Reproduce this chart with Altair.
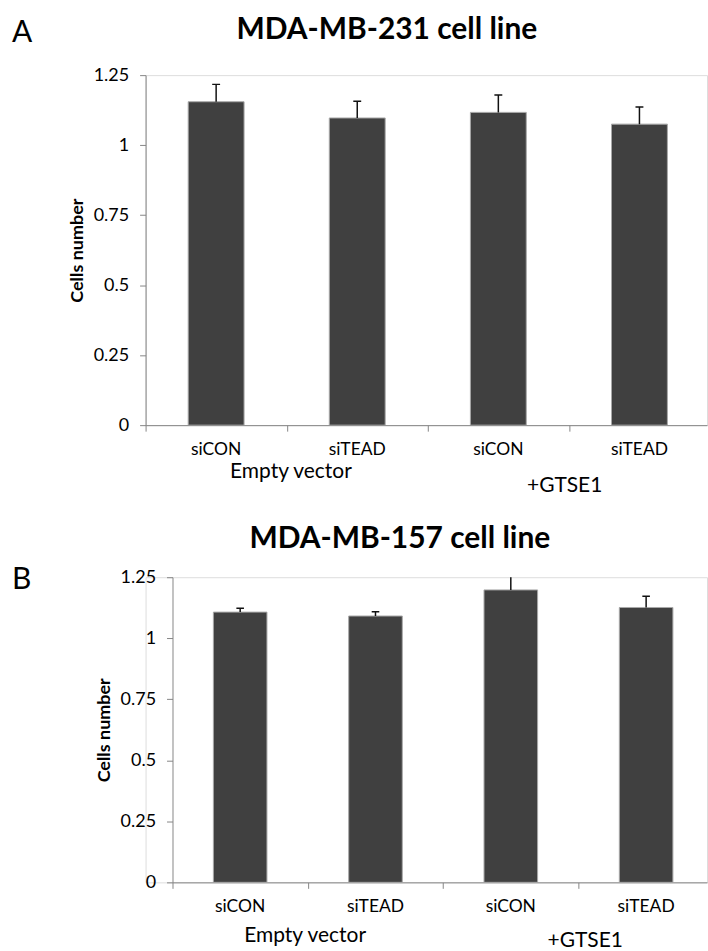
import altair as alt
import pandas as pd

categories = ["siCON", "siTEAD", "siCON", "siTEAD"]
groups = ["Empty vector", "+GTSE1"]
y_ticks = [0, 0.25, 0.5, 0.75, 1, 1.25]
y_title = "Cells number"
a_title = "MDA-MB-231 cell line"
b_title = "MDA-MB-157 cell line"
a_mean = [1.155, 1.097, 1.117, 1.075]
a_err = [0.062, 0.060, 0.062, 0.061]
b_mean = [1.107, 1.091, 1.198, 1.126]
b_err = [0.016, 0.018, 0.070, 0.046]

FONT = "Lato"
BAR = "#404040"
AX = "#868686"
W = 563  # shared panel width (origin at the y axis of panel A)


def panel(letter, title, means, errs, x_start, step, height, grp_x, grp_dy,
          lbl_dy, title_x, title_dy, letter_dx, letter_dy):
    df = pd.DataFrame({"cat": categories, "idx": list(range(len(categories))),
                       "mean": means, "err": errs})
    df["c"] = df["idx"] + 0.5
    df["x0"] = df["idx"] + 0.302
    df["x1"] = df["idx"] + 0.698
    df["top"] = df["mean"] + df["err"]
    df["cl"] = df["c"] - 0.028
    df["cr"] = df["c"] + 0.028

    xmax = (W - x_start) / step
    xs = alt.Scale(domain=[0, xmax], range=[x_start, W], nice=False, zero=False)
    ys = alt.Scale(domain=[0, 1.25], nice=False)
    base = alt.Chart(df)

    yaxis_kw = dict(values=y_ticks, labelExpr="datum.value + ''", title=y_title,
                    grid=False, domainColor=AX, tickColor=AX, tickSize=6,
                    labelPadding=11, titlePadding=7, titleFont=FONT,
                    titleFontSize=18, titleFontWeight="bold", titleColor="#000",
                    labelFont=FONT, labelFontSize=18, labelColor="#000")
    if x_start:
        yaxis_kw["offset"] = -x_start

    bars = base.mark_bar(color=BAR, stroke="#a8a8a8", strokeWidth=1, clip=True).encode(
        x=alt.X("x0:Q", scale=xs,
                axis=alt.Axis(values=[0, 1, 2, 3], labels=False, title=None, grid=False,
                              domainColor=AX, tickColor=AX, tickSize=6)),
        x2="x1:Q",
        y=alt.Y("mean:Q", scale=ys, axis=alt.Axis(**yaxis_kw)),
        y2=alt.datum(0),
    )
    err = base.mark_rule(color="#111", strokeWidth=1.5, clip=True).encode(
        x="c:Q", y="mean:Q", y2="top:Q")
    cap = base.mark_rule(color="#111", strokeWidth=1.5, clip=True).encode(
        x="cl:Q", x2="cr:Q", y="top:Q")
    labels = base.mark_text(font=FONT, fontSize=17.5, baseline="middle", color="#000").encode(
        x="c:Q", y=alt.value(height + lbl_dy), text="cat:N")

    layers = [bars, err, cap, labels]
    for i, g in enumerate(groups):
        gdf = pd.DataFrame({"g": [g], "pos": [grp_x[i]]})
        layers.append(alt.Chart(gdf).mark_text(font=FONT, fontSize=21, baseline="middle",
                                               color="#000").encode(
            x="pos:Q", y=alt.value(height + grp_dy[i]), text="g:N"))
    tdf = pd.DataFrame({"t": [title]})
    layers.append(alt.Chart(tdf).mark_text(font=FONT, fontSize=30, fontWeight="bold",
                                           baseline="middle", color="#000").encode(
        x=alt.value(title_x), y=alt.value(title_dy), text="t:N"))
    ldf = pd.DataFrame({"t": [letter]})
    layers.append(alt.Chart(ldf).mark_text(font=FONT, fontSize=30, align="left",
                                           baseline="middle", color="#000").encode(
        x=alt.value(letter_dx), y=alt.value(letter_dy), text="t:N"))
    return alt.layer(*layers).properties(width=W, height=height)


pa = panel("A", a_title, a_mean, a_err, 0, 141.5, 351,
           [1.03, 2.97], [47, 61], 25, 242, -45, -134, -42)
pb = panel("B", b_title, b_mean, b_err, 27, 135.7, 306,
           [0.98, 3.05], [54, 59], 25, 255, -38, -134, 3)

chart = alt.vconcat(pa, pb, spacing=26.5).properties(
    padding={"left": 11, "top": 13, "right": 0, "bottom": 0}
).configure_view(stroke=None).configure(font=FONT)

chart.save("out.html", embed_options={"renderer": "svg", "actions": False})
